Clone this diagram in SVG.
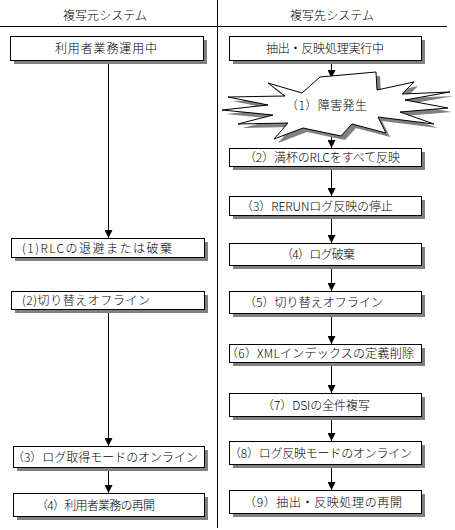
<svg xmlns="http://www.w3.org/2000/svg" width="455" height="530" viewBox="0 0 455 530">
<defs>
<style>
text{font-family:"Noto Sans CJK JP","Noto Sans",sans-serif;font-size:12px;font-weight:300;fill:#000}
.box{fill:#fff;stroke:#000;stroke-width:1}
.sh{fill:#808080}
.c{text-anchor:middle}
.ln{stroke:#000;stroke-width:1;fill:none}
.con{stroke:#000;stroke-width:1;fill:none;marker-end:url(#ah)}
</style>
<marker id="ah" markerUnits="userSpaceOnUse" viewBox="0 0 8 8" refX="8" refY="4" markerWidth="8" markerHeight="8" orient="auto">
<path d="M0,0 L8,4 L0,8 z" fill="#000"/>
</marker>
</defs>
<rect width="455" height="530" fill="#fff"/>
<g id="frame">
<line class="ln" x1="217.5" y1="0" x2="217.5" y2="528"/>
<line class="ln" x1="0" y1="26.5" x2="447" y2="26.5"/>
<text class="c" x="105" y="19.5" textLength="84">複写元システム</text>
<text class="c" x="332" y="19.5" textLength="84">複写先システム</text>
</g>
<g id="connectors">
<line class="con" x1="108.5" y1="60" x2="108.5" y2="238"/>
<line class="con" x1="108.5" y1="309" x2="108.5" y2="446"/>
<line class="con" x1="108.5" y1="467" x2="108.5" y2="493"/>
<line class="con" x1="331.5" y1="60" x2="331.5" y2="78"/>
<line class="con" x1="331.5" y1="134" x2="331.5" y2="148"/>
<line class="con" x1="331.5" y1="166" x2="331.5" y2="196"/>
<line class="con" x1="331.5" y1="215" x2="331.5" y2="243"/>
<line class="con" x1="331.5" y1="265" x2="331.5" y2="291"/>
<line class="con" x1="331.5" y1="313" x2="331.5" y2="344"/>
<line class="con" x1="331.5" y1="362" x2="331.5" y2="393"/>
<line class="con" x1="331.5" y1="416" x2="331.5" y2="441"/>
<line class="con" x1="331.5" y1="464" x2="331.5" y2="490"/>
</g>
<g id="src0">
<rect class="sh" x="14" y="40" width="193" height="24"/>
<rect class="box" x="10.5" y="36.5" width="193" height="24"/>
<text class="c" x="106" y="53" textLength="102">利用者業務運用中</text>
</g>
<g id="src1">
<rect class="sh" x="15" y="242" width="193" height="19"/>
<rect class="box" x="11.5" y="238.5" width="193" height="19"/>
<text x="22" y="252.5" textLength="150">(1)RLCの退避または破棄</text>
</g>
<g id="src2">
<rect class="sh" x="15" y="295" width="193" height="18"/>
<rect class="box" x="11.5" y="291.5" width="193" height="18"/>
<text x="22" y="305" textLength="128">(2)切り替えオフライン</text>
</g>
<g id="src3">
<rect class="sh" x="17" y="450" width="191" height="21"/>
<rect class="box" x="13.5" y="446.5" width="191" height="21"/>
<text x="12" y="461.5" textLength="186">（3）ログ取得モードのオンライン</text>
</g>
<g id="src4">
<rect class="sh" x="17" y="497" width="191" height="23"/>
<rect class="box" x="13.5" y="493.5" width="191" height="23"/>
<text x="36" y="509.5" textLength="119">（4）利用者業務の再開</text>
</g>
<g id="dst0">
<rect class="sh" x="233" y="40" width="192" height="24"/>
<rect class="box" x="229.5" y="36.5" width="192" height="24"/>
<text class="c" x="325" y="53" textLength="118">抽出・反映処理実行中</text>
</g>
<g id="dst1">
<polygon class="sh" transform="translate(4,4)" points="268,83 302,93 320,77 376,72 377,90 414,82 402,94 450,92 405,100 448,108 400,112 434,124 378,117 386,133 352,124 341,136 303,128 274,139 288,123 238,124 273,115 222,110 268,105 228,97 285,96"/>
<polygon class="box" points="268,83 302,93 320,77 376,72 377,90 414,82 402,94 450,92 405,100 448,108 400,112 434,124 378,117 386,133 352,124 341,136 303,128 274,139 288,123 238,124 273,115 222,110 268,105 228,97 285,96"/>
<text x="286" y="109.5" textLength="81">（1）障害発生</text>
</g>
<g id="dst2">
<rect class="sh" x="233" y="152" width="192" height="18"/>
<rect class="box" x="229.5" y="148.5" width="192" height="18"/>
<text x="244" y="162" textLength="156">（2）満杯のRLCをすべて反映</text>
</g>
<g id="dst3">
<rect class="sh" x="233" y="200" width="192" height="19"/>
<rect class="box" x="229.5" y="196.5" width="192" height="19"/>
<text x="241" y="210.5" textLength="152">（3）RERUNログ反映の停止</text>
</g>
<g id="dst4">
<rect class="sh" x="233" y="247" width="192" height="22"/>
<rect class="box" x="229.5" y="243.5" width="192" height="22"/>
<text x="281" y="259" textLength="74">（4）ログ破棄</text>
</g>
<g id="dst5">
<rect class="sh" x="233" y="295" width="192" height="22"/>
<rect class="box" x="229.5" y="291.5" width="192" height="22"/>
<text x="244" y="307" textLength="139">（5）切り替えオフライン</text>
</g>
<g id="dst6">
<rect class="sh" x="233" y="348" width="192" height="18"/>
<rect class="box" x="229.5" y="344.5" width="192" height="18"/>
<text x="226" y="358" textLength="188">（6）XMLインデックスの定義削除</text>
</g>
<g id="dst7">
<rect class="sh" x="233" y="397" width="192" height="23"/>
<rect class="box" x="229.5" y="393.5" width="192" height="23"/>
<text x="262" y="409.5" textLength="108">（7）DSIの全件複写</text>
</g>
<g id="dst8">
<rect class="sh" x="233" y="445" width="192" height="23"/>
<rect class="box" x="229.5" y="441.5" width="192" height="23"/>
<text x="229" y="457.5" textLength="183">（8）ログ反映モードのオンライン</text>
</g>
<g id="dst9">
<rect class="sh" x="233" y="494" width="192" height="23"/>
<rect class="box" x="229.5" y="490.5" width="192" height="23"/>
<text x="244" y="506.5" textLength="158">（9）抽出・反映処理の再開</text>
</g>
</svg>
